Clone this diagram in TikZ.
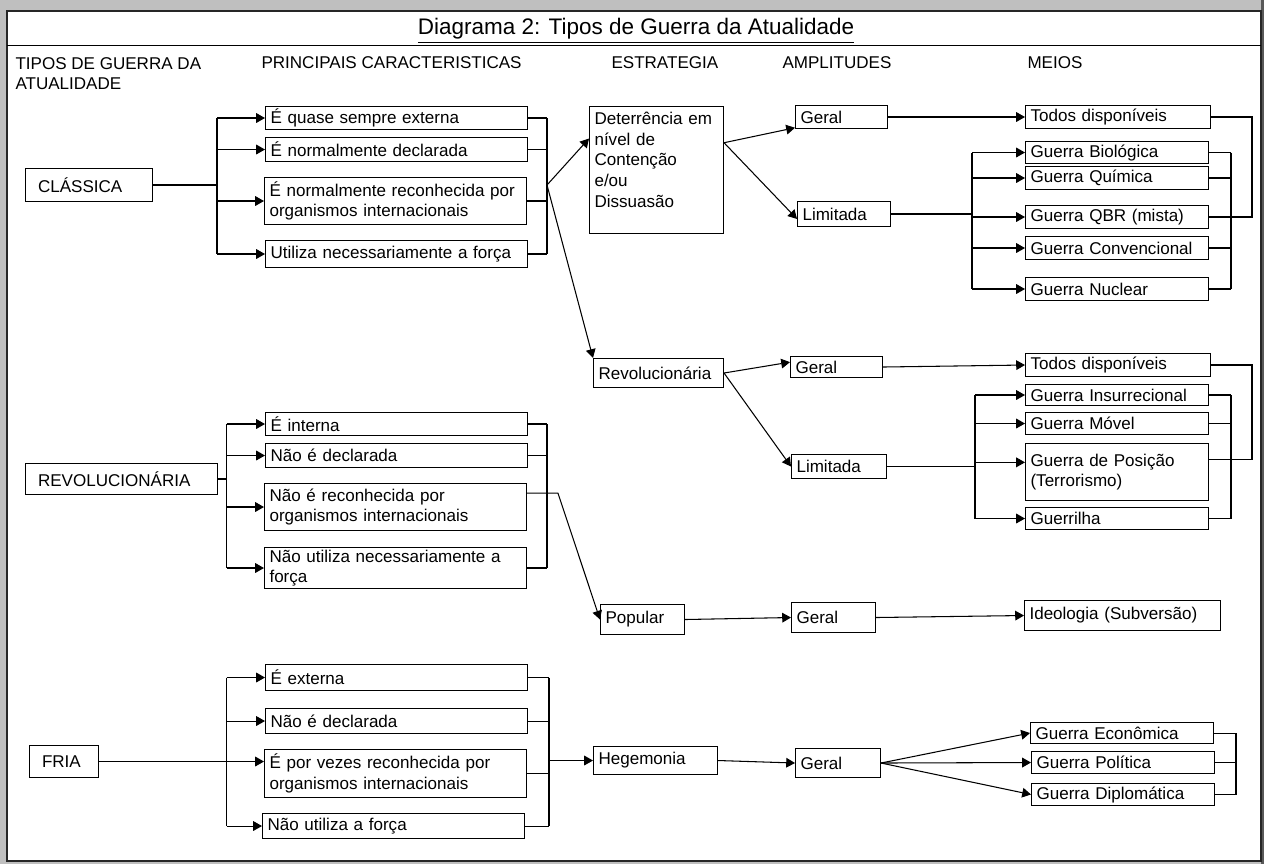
\documentclass[tikz,border=0pt]{standalone}
\usepackage{fontspec}
\setmainfont{Liberation Sans}
\usetikzlibrary{arrows.meta}
\newcommand\corpo{\fontsize{9.7}{11.7}\selectfont}
\newcommand\titulo{\fontsize{12.8}{15}\selectfont}
\tikzset{caixa/.style={draw,rectangle,anchor=north west,align=left,
		 inner xsep=0.1cm,inner ysep=0pt,font=\corpo}}
\tikzset{tipo/.style={caixa,inner xsep=0.25cm}}
\tikzset{col2/.style={caixa,text width=5.04cm},
		 meio/.style={caixa,text width=3.46cm}}
\tikzset{cabec/.style={anchor=base west,inner sep=0pt,font=\corpo}}
\tikzset{seta/.style={-{Triangle[length=5pt,width=5.5pt]}}}

\begin{document}
\begin{tikzpicture}[x=0.02cm,y=-0.02cm,line width=0.6pt]
	\useasboundingbox (0,0) rectangle (1264,864);
	\fill[gray!50] (0,0) rectangle (1264,864);
	\fill[black!65] (1261,0) rectangle (1264,864);
	\filldraw[fill=white,draw=black!85] (7,11) rectangle (1261,861);
	\draw (7,45.5) -- (1261,45.5);
	\node[font=\titulo,anchor=base,inner sep=0pt] (titulo) at (636,35)
		{\underline{Diagrama 2: Tipos de Guerra da Atualidade}};
	% cabecalhos
	\node[cabec,anchor=north west,align=left] (h1) at (15,57) {TIPOS DE GUERRA DA\\ATUALIDADE};
	\node[cabec] (h2) at (261,69) {PRINCIPAIS CARACTERISTICAS};
	\node[cabec] (h3) at (611,69) {ESTRATEGIA};
	\node[cabec] (h4) at (782,69) {AMPLITUDES};
	\node[cabec] (h5) at (1027,69) {MEIOS};

	% guerra classica
	\node[tipo,text width=2.04cm,minimum height=0.66cm] (cl) at (25,168) {CLÁSSICA};
	\node[col2,minimum height=0.46cm] (c1) at (265,106) {É quase sempre externa};
	\node[col2,minimum height=0.48cm] (c2) at (265,137) {É normalmente declarada};
	\node[col2,minimum height=0.94cm] (c3) at (264,177) {É normalmente reconhecida por\\organismos internacionais};
	\node[col2,minimum height=0.54cm] (c4) at (265,240) {Utiliza necessariamente a força};
	\node[caixa,text width=2.48cm,minimum height=2.54cm] (det) at (589,106)
		{Deterrência em\\nível de\\Contenção\\e/ou\\Dissuasão\\ \mbox{}};
	\node[caixa,text width=1.64cm,minimum height=0.46cm] (g1) at (795,105) {Geral};
	\node[caixa,text width=1.66cm,minimum height=0.50cm] (l1) at (797,201) {Limitada};
	\node[caixa,text width=3.50cm,minimum height=0.46cm] (t1) at (1025,105) {Todos disponíveis};
	\node[meio,minimum height=0.44cm] (m1) at (1025,141) {Guerra Biológica};
	\node[meio,minimum height=0.46cm] (m2) at (1025,166) {Guerra Química};
	\node[meio,minimum height=0.46cm] (m3) at (1025,205) {Guerra QBR (mista)};
	\node[meio,minimum height=0.46cm] (m4) at (1025,236) {Guerra Convencional};
	\node[meio,minimum height=0.46cm] (m5) at (1025,277) {Guerra Nuclear};
	\coordinate (bA) at (217,0);
	\coordinate (bB) at (547,0);
	\coordinate (bC) at (972,0);
	\coordinate (bD) at (1231,0);
	\coordinate (bE) at (1252,0);
	\draw (cl.east) -- (bA |- cl.east);
	\draw (bA |- c1.west) -- (bA |- c4.west);
	\draw[seta] (bA |- c1.west) -- (c1.west);
	\draw[seta] (bA |- c2.west) -- (c2.west);
	\draw[seta] (bA |- c3.west) -- (c3.west);
	\draw[seta] (bA |- c4.west) -- (c4.west);
	\draw (c1.east) -- (bB |- c1.east);
	\draw (c2.east) -- (bB |- c2.east);
	\draw (c3.east) -- (bB |- c3.east);
	\draw (c4.east) -- (bB |- c4.east);
	\draw (bB |- c1.east) -- (bB |- c4.east);
	\draw[seta] (bB |- cl.east) -- (det.155);
	\draw[seta] (det.22) -- (g1.193);
	\draw[seta] (det.22) -- (l1.186);
	\draw[seta] (g1.east) -- (t1.west);
	\draw (l1.east) -- (bC |- l1.east);
	\draw (bC |- m1.west) -- (bC |- m5.west);
	\draw[seta] (bC |- m1.west) -- (m1.west);
	\draw[seta] (bC |- m2.west) -- (m2.west);
	\draw[seta] (bC |- m3.west) -- (m3.west);
	\draw[seta] (bC |- m4.west) -- (m4.west);
	\draw[seta] (bC |- m5.west) -- (m5.west);
	\draw (m1.east) -- (bD |- m1.east);
	\draw (m2.east) -- (bD |- m2.east);
	\draw (m3.east) -- (bD |- m3.east);
	\draw (m4.east) -- (bD |- m4.east);
	\draw (m5.east) -- (bD |- m5.east);
	\draw (bD |- m1.east) -- (bD |- m5.east);
	\draw (t1.east) -| (bE |- m3.east) -- (bD |- m3.east);

	% guerra revolucionaria
	\node[tipo,text width=3.34cm,minimum height=0.62cm] (rv) at (25,463) {REVOLUCIONÁRIA};
	\node[col2,minimum height=0.46cm] (r1) at (265,412) {É interna};
	\node[col2,minimum height=0.48cm] (r2) at (265,443) {Não é declarada};
	\node[col2,minimum height=0.94cm] (r3) at (264,483) {Não é reconhecida por\\organismos internacionais};
	\node[col2,minimum height=0.82cm] (r4) at (264,547) {Não utiliza necessariamente a\\força};
	\node[caixa,text width=2.40cm,minimum height=0.58cm] (rev) at (593,358) {Revolucionária};
	\node[caixa,text width=1.64cm,minimum height=0.42cm] (g2) at (790,356) {Geral};
	\node[caixa,text width=1.70cm,minimum height=0.48cm] (l2) at (791,454) {Limitada};
	\node[caixa,text width=3.50cm,minimum height=0.46cm] (t2) at (1025,353) {Todos disponíveis};
	\node[meio,minimum height=0.42cm] (n1) at (1025,384) {Guerra Insurrecional};
	\node[meio,minimum height=0.44cm] (n2) at (1025,412) {Guerra Móvel};
	\node[meio,minimum height=1.14cm] (n3) at (1025,443) {Guerra de Posição\\(Terrorismo)};
	\node[meio,minimum height=0.44cm] (n4) at (1025,507) {Guerrilha};
	\node[caixa,text width=1.48cm,minimum height=0.60cm] (pop) at (600,604) {Popular};
	\node[caixa,text width=1.48cm,minimum height=0.60cm] (g3) at (791,602) {Geral};
	\node[caixa,text width=3.72cm,minimum height=0.60cm] (id) at (1024,600) {Ideologia (Subversão)};
	\coordinate (bF) at (226.5,0);
	\coordinate (bG) at (547,0);
	\coordinate (bH) at (975,0);
	\coordinate (bI) at (1231,0);
	\coordinate (bJ) at (1252,0);
	\draw[seta] (bB |- cl.east) -- (rev.north west);
	\draw (rv.east) -- (bF |- rv.east);
	\draw (bF |- r1.west) -- (bF |- r4.west);
	\draw[seta] (bF |- r1.west) -- (r1.west);
	\draw[seta] (bF |- r2.west) -- (r2.west);
	\draw[seta] (bF |- r3.west) -- (r3.west);
	\draw[seta] (bF |- r4.west) -- (r4.west);
	\draw (r1.east) -- (bG |- r1.east);
	\draw (r2.east) -- (bG |- r2.east);
	\draw (r4.east) -- (bG |- r4.east);
	\draw (bG |- r1.east) -- (bG |- r4.east);
	\draw[seta] (r3.6) -- ++(31,0) -- (pop.west);
	\draw[seta] (rev.east) -- (g2.174);
	\draw[seta] (rev.east) -- (l2.west);
	\draw[seta] (g2.east) -- (t2.west);
	\draw (l2.east) -- (bH |- l2.east);
	\draw (bH |- n1.west) -- (bH |- n4.west);
	\draw[seta] (bH |- n1.west) -- (n1.west);
	\draw[seta] (bH |- n2.west) -- (n2.west);
	\draw[seta] (bH |- n3.174) -- (n3.174);
	\draw[seta] (bH |- n4.west) -- (n4.west);
	\draw (n1.east) -- (bI |- n1.east);
	\draw (n2.east) -- (bI |- n2.east);
	\draw (n3.8) -- (bI |- n3.8);
	\draw (n4.east) -- (bI |- n4.east);
	\draw (bI |- n1.east) -- (bI |- n4.east);
	\draw (t2.east) -| (bJ |- n3.8) -- (bI |- n3.8);
	\draw[seta] (pop.east) -- (g3.west);
	\draw[seta] (g3.east) -- (id.west);

	% guerra fria
	\node[tipo,text width=0.88cm,minimum height=0.64cm] (fr) at (29,745) {FRIA};
	\node[col2,minimum height=0.52cm] (f1) at (265,664) {É externa};
	\node[col2,minimum height=0.50cm] (f2) at (265,708) {Não é declarada};
	\node[col2,minimum height=0.96cm] (f3) at (264,749) {É por vezes reconhecida por\\organismos internacionais};
	\node[col2,minimum height=0.50cm] (f4) at (262,813) {Não utiliza a força};
	\node[caixa,text width=2.28cm,minimum height=0.56cm] (heg) at (593,746) {Hegemonia};
	\node[caixa,text width=1.50cm,minimum height=0.58cm] (g4) at (795,748) {Geral};
	\node[meio,minimum height=0.42cm] (e1) at (1030,722) {Guerra Econômica};
	\node[meio,minimum height=0.44cm] (e2) at (1031,751) {Guerra Política};
	\node[meio,minimum height=0.44cm] (e3) at (1031,783) {Guerra Diplomática};
	\coordinate (bK) at (226.5,0);
	\coordinate (bL) at (549,0);
	\coordinate (bM) at (1236,0);
	\draw (bK |- f1.west) -- (bK |- f4.west);
	\draw[seta] (bK |- f1.west) -- (f1.west);
	\draw[seta] (bK |- f2.west) -- (f2.west);
	\draw[seta] (fr.east) -- (fr.east -| f3.west);
	\draw[seta] (bK |- f4.west) -- (f4.west);
	\draw (f1.east) -- (bL |- f1.east);
	\draw (f2.east) -- (bL |- f2.east);
	\draw (f3.east) -- (bL |- f3.east);
	\draw (f4.east) -- (bL |- f4.east);
	\draw (bL |- f1.east) -- (bL |- f4.east);
	\draw[seta] (bL |- heg.west) -- (heg.west);
	\draw[seta] (heg.east) -- (g4.west);
	\draw[seta] (g4.east) -- (e1.west);
	\draw[seta] (g4.east) -- (e2.west);
	\draw[seta] (g4.east) -- (e3.west);
	\draw (e1.east) -- (bM |- e1.east);
	\draw (e2.east) -- (bM |- e2.east);
	\draw (e3.east) -- (bM |- e3.east);
	\draw (bM |- e1.east) -- (bM |- e3.east);
\end{tikzpicture}
\end{document}
